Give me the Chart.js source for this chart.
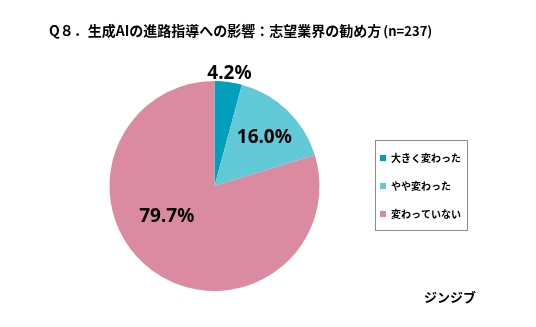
<!DOCTYPE html>
<html>
<head>
<meta charset="utf-8">
<script src="https://cdn.jsdelivr.net/npm/chart.js@4.4.1/dist/chart.umd.min.js"></script>
<style>
  html, body { margin: 0; padding: 0; background: #fff; }
  #wrap { width: 536px; height: 327px; position: relative; }
</style>
</head>
<body>
<div id="wrap"><canvas id="pieChart" width="536" height="327"></canvas></div>
<script>
const CATEGORIES = ['大きく変わった', 'やや変わった', '変わっていない'];
const PERCENTS = [4.2, 16.0, 79.7];
const COLORS = ['#00A0BD', '#62C9D6', '#DB8BA1'];
const TITLE_MAIN = 'Q８．生成AIの進路指導への影響：志望業界の勧め方';
const TITLE_N = '(n=237)';
const BRAND = 'ジンジブ';

const JP_FONT = '"Noto Sans CJK JP", "Noto Sans", sans-serif';

// where each value label sits: fraction of radius, plus angle nudge in degrees
const LABEL_SPOTS = [
  { r: 1.08, da: 0 },
  { r: 0.66, da: 2 },
  { r: 0.54, da: 21 },
];

const textPlugin = {
  id: 'texts',
  afterDraw(chart) {
    const ctx = chart.ctx;
    ctx.save();
    ctx.fillStyle = '#000';
    ctx.textBaseline = 'middle';

    // title
    ctx.textAlign = 'left';
    ctx.font = 'bold 14px ' + JP_FONT;
    ctx.fillText(TITLE_MAIN, 49, 31);
    const w = ctx.measureText(TITLE_MAIN).width;
    ctx.font = 'bold 13px ' + JP_FONT;
    ctx.fillText(TITLE_N, 49 + w + 2, 31);

    // brand
    ctx.textAlign = 'right';
    ctx.font = 'bold 13px ' + JP_FONT;
    ctx.fillText(BRAND, 476, 297);

    // value labels
    const arcs = chart.getDatasetMeta(0).data;
    ctx.textAlign = 'center';
    ctx.font = 'bold 19px "Noto Sans", sans-serif';
    arcs.forEach((arc, i) => {
      const spot = LABEL_SPOTS[i];
      const mid = (arc.startAngle + arc.endAngle) / 2 + spot.da * Math.PI / 180;
      const rr = arc.outerRadius * spot.r;
      ctx.fillText(PERCENTS[i].toFixed(1) + '%', arc.x + Math.cos(mid) * rr, arc.y + Math.sin(mid) * rr);
    });

    // legend frame
    const boxes = chart.legend.legendHitBoxes;
    if (boxes && boxes.length) {
      const top = boxes[0].top - 13;
      const bottom = boxes[boxes.length - 1].top + boxes[boxes.length - 1].height + 11;
      const left = boxes[0].left - 5;
      const right = 467;
      ctx.strokeStyle = '#8c8c8c';
      ctx.lineWidth = 1;
      ctx.strokeRect(Math.round(left) + 0.5, Math.round(top) + 0.5, Math.round(right - left), Math.round(bottom - top));
    }
    ctx.restore();
  },
};

new Chart(document.getElementById('pieChart'), {
  type: 'pie',
  data: {
    labels: CATEGORIES,
    datasets: [{
      data: PERCENTS,
      backgroundColor: COLORS,
      borderWidth: 0,
    }],
  },
  options: {
    responsive: false,
    animation: false,
    layout: {
      padding: { top: 81, bottom: 36, left: 67, right: 65 },
    },
    plugins: {
      title: { display: false },
      tooltip: { enabled: false },
      legend: {
        position: 'right',
        labels: {
          boxWidth: 6,
          boxHeight: 6,
          padding: 18,
          color: '#000',
          font: { family: JP_FONT, size: 10, weight: 'bold' },
        },
      },
    },
  },
  plugins: [textPlugin],
});
</script>
</body>
</html>
